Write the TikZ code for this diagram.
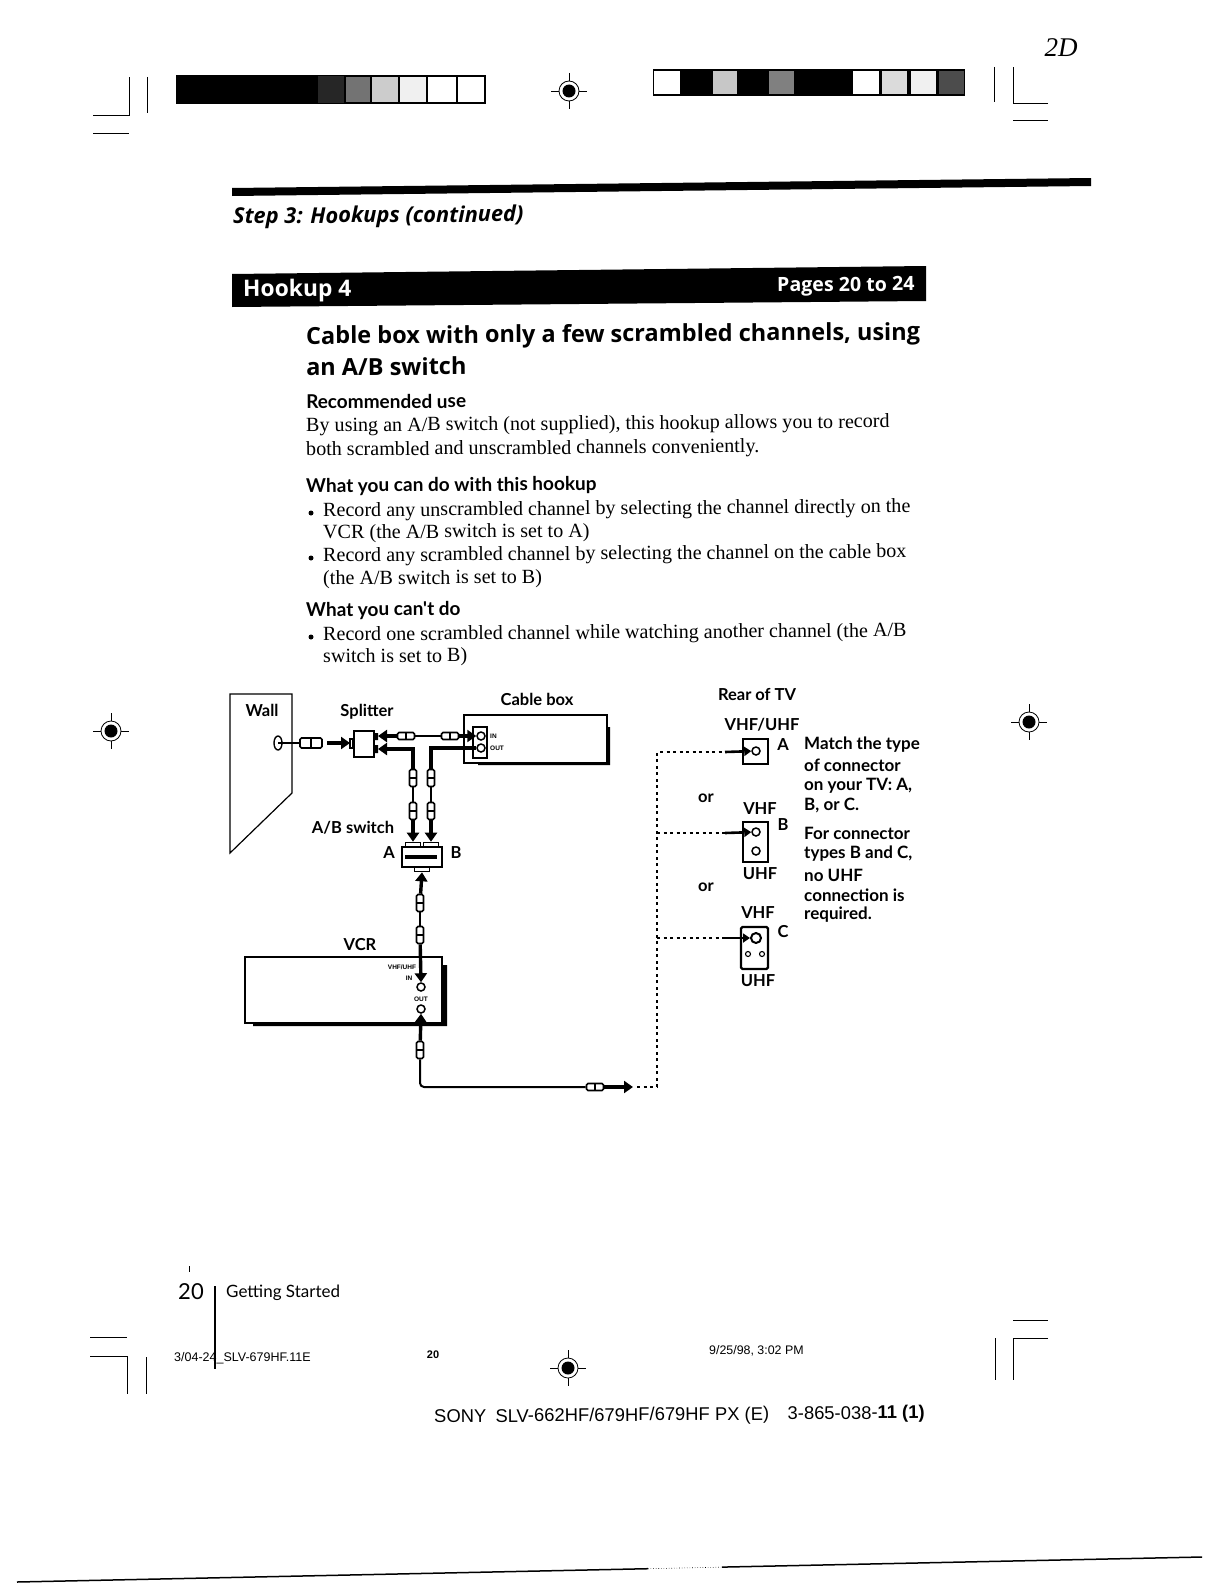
\documentclass[tikz,border=0pt]{standalone}
\usepackage{fontspec}
\setmainfont{Liberation Serif}
\newfontfamily\labelfont{Lato}
\newfontfamily\openfont{Open Sans}
\newfontfamily\helvfont{Liberation Sans}
\usetikzlibrary{arrows.meta}

\tikzset{
	bodytext/.style={anchor=west, inner sep=0pt, rotate=0.4, font=\fontsize{20.1}{20.1}\selectfont},
	headtext/.style={anchor=west, inner sep=0pt, rotate=0.4, font=\labelfont\fontsize{19}{19}\selectfont\bfseries},
	tag/.style={inner sep=0pt, font=\labelfont\fontsize{16.5}{16.5}\selectfont\bfseries},
	sidetext/.style={anchor=west, inner sep=0pt, font=\labelfont\fontsize{17}{17}\selectfont\bfseries},
	tinytag/.style={inner sep=0pt, font=\helvfont\fontsize{6.5}{6.5}\selectfont\bfseries},
	cable/.style={line width=1.6pt},
	thickcable/.style={line width=3.4pt},
	feed/.style={line width=3.4pt, -{Triangle[length=9pt,width=12pt]}},
	dashline/.style={line width=1.5pt, dash pattern=on 3pt off 3.5pt},
	plug/.style={draw, fill=white, line width=1.6pt, inner sep=0pt, minimum width=7pt, minimum height=17pt, rounded corners=1.5pt,
		path picture={\draw[line width=1.6pt] (path picture bounding box.west) -- (path picture bounding box.east);}},
	plugh/.style={draw, fill=white, line width=1.6pt, inner sep=0pt, minimum width=17pt, minimum height=7pt, rounded corners=1.5pt,
		path picture={\draw[line width=1.6pt] (path picture bounding box.north) -- (path picture bounding box.south);}},
	jack/.style={draw, circle, line width=1.5pt, inner sep=0pt, minimum size=8pt, fill=white,
		path picture={\fill (path picture bounding box.center) circle (1);}},
	crop/.style={line width=0.8pt},
	chip/.style={draw, line width=1.6pt, minimum width=25pt, minimum height=25pt, inner sep=0pt}
}

% registration mark
\newcommand{\regmark}[2]{
	\draw[line width=0.8pt] (#1-18,#2) -- (#1+18,#2) (#1,#2-18) -- (#1,#2+18);
	\draw[line width=0.8pt, fill=white] (#1,#2) circle (10);
	\fill (#1,#2) circle (6.5);
}

\begin{document}
\begin{tikzpicture}[x=1pt, y=-1pt, line cap=butt, line join=miter]
	\useasboundingbox (0,0) rectangle (1224,1584);
	\fill[white] (0,0) rectangle (1224,1584);

	% Crop marks, top
	\draw[crop] (93,115) -- (129,115) -- (129,77);
	\draw[crop] (93,133) -- (129,133);
	\draw[crop] (147,77) -- (147,113);
	\draw[crop] (994,67) -- (994,102);
	\draw[crop] (1048,103) -- (1013,103) -- (1013,67);
	\draw[crop] (1013,120) -- (1048,120);
	\regmark{569}{91}
	\regmark{111}{731}
	\regmark{1029}{722}

	% Colour bars
	\fill (176,75) rectangle (345,104);
	\fill[black!85] (318,76) rectangle (344,103);
	\foreach \xa/\xb/\shade in {345/371/55, 371/399/20, 399/427/6, 427/457/0, 457/485/0}
		\draw[line width=2.4pt, fill=black!\shade] (\xa,76) rectangle (\xb,103);
	\fill (653,69) rectangle (965,96);
	\foreach \xa/\xb/\shade in {654/680/0, 713/737/22, 769/794/50, 853/879/0, 882/907/14, 911/936/6}
		\fill[black!\shade] (\xa,71) rectangle (\xb,94);
	\fill[black!70] (939,71) rectangle (964,94);
	\node[font=\itshape\fontsize{27}{27}\selectfont, inner sep=0pt] (pagemark) at (1061,48) {2D};

	% Page head
	\fill (232,188) -- (1091,178) -- (1091,186) -- (232,196) -- cycle;
	\node[headtext, font=\openfont\fontsize{21.8}{21.8}\selectfont\bfseries\itshape] (step) at (233,218) {Step 3: Hookups (continued)};
	\fill (232,274) -- (926,266) -- (926,301) -- (232,307) -- cycle;
	\node[headtext, text=white, font=\openfont\fontsize{22.8}{22.8}\selectfont\bfseries] (hookup) at (243,291) {Hookup 4};
	\node[headtext, text=white, font=\openfont\fontsize{19.6}{19.6}\selectfont\bfseries] (pages) at (777,287) {Pages 20 to 24};
	\node[headtext, font=\openfont\fontsize{23.5}{23.5}\selectfont\bfseries] (title1) at (306,338) {Cable box with only a few scrambled channels, using};
	\node[headtext, font=\openfont\fontsize{23.5}{23.5}\selectfont\bfseries] (title2) at (306,367) {an A/B switch};

	% Body text
	\node[headtext] (use) at (306,402) {Recommended use};
	\node[bodytext] (use1) at (306,427) {By using an A/B switch (not supplied), this hookup allows you to record};
	\node[bodytext] (use2) at (306,451) {both scrambled and unscrambled channels conveniently.};
	\node[headtext] (can) at (306,487) {What you can do with this hookup};
	\node[bodytext] (can1) at (323,512) {Record any unscrambled channel by selecting the channel directly on the};
	\node[bodytext] (can2) at (323,534) {VCR (the A/B switch is set to A)};
	\node[bodytext] (can3) at (323,557) {Record any scrambled channel by selecting the channel on the cable box};
	\node[bodytext] (can4) at (323,580) {(the A/B switch is set to B)};
	\node[headtext] (cant) at (306,611) {What you can't do};
	\node[bodytext] (cant1) at (323,636) {Record one scrambled channel while watching another channel (the A/B};
	\node[bodytext] (cant2) at (323,658) {switch is set to B)};
	\fill (311,513) circle (2.5) (311,558) circle (2.5) (311,637) circle (2.5);

	% Wall
	\draw[line width=1.2pt] (292,694) -- (230,694) -- (230,853) -- (292,793) -- cycle;
	\node[tag] (wall) at (262,710) {Wall};
	\draw[line width=1.4pt, fill=white] (278,743) ellipse (4 and 7);
	\coordinate (walljack) at (278,743);

	% Splitter
	\node[tag] (splitterlabel) at (367,712) {Splitter};
	\node[draw, line width=1.4pt, minimum width=20pt, minimum height=26pt, inner sep=0pt] (splitter) at (364,744) {};
	\fill (375,733) rectangle (378,740) (375,745) rectangle (378,753);
	\draw[line width=1.1pt] (353,739) rectangle (350,748);
	\coordinate (splitin) at (350,743);
	\coordinate (splittop) at (378,736);
	\coordinate (splitlow) at (378,749);

	% Cable box
	\node[tag] (cablelabel) at (537,699) {Cable box};
	\node[draw, line width=1.1pt, minimum width=143pt, minimum height=48pt, inner sep=0pt] (cablebox) at (535.5,739) {};
	\fill (478,762) rectangle (610,765) (606,727) rectangle (610,765);
	\node[draw, line width=1.1pt, minimum width=14pt, minimum height=31pt, inner sep=0pt] (panel) at (480,742.5) {};
	\node[jack] (boxin) at (481,736) {};
	\node[jack] (boxout) at (481,748) {};
	\node[tinytag, anchor=west] (inlabel) at (490,736) {IN};
	\node[tinytag, anchor=west] (outlabel) at (490,748) {OUT};

	% A/B switch
	\node[tag] (switchlabel) at (353,828) {A/B switch};
	\node[tag] (aside) at (389,853) {A};
	\node[tag] (bside) at (456,853) {B};
	\node[draw, line width=1.5pt, minimum width=40pt, minimum height=20pt, inner sep=0pt] (switch) at (422,857) {};
	\fill (405,855) rectangle (437,858.5);
	\node[draw, line width=1.3pt, minimum width=15pt, minimum height=4pt, inner sep=0pt, anchor=south] (swa) at (413,847) {};
	\node[draw, line width=1.3pt, minimum width=15pt, minimum height=4pt, inner sep=0pt, anchor=south] (swb) at (431,847) {};
	\node[draw, line width=1.3pt, minimum width=15pt, minimum height=4pt, inner sep=0pt, anchor=north] (swc) at (422,867) {};

	% Wall to splitter
	\node[plugh, minimum width=22pt, minimum height=10pt] (p1) at (311,743) {};
	\draw[cable] (walljack) -- (p1);
	\draw[feed] (327,743) -- (splitin);

	% Splitter to cable box
	\node[plugh] (p2) at (406,736) {};
	\node[plugh] (p3) at (450,736) {};
	\draw[cable] (p2) -- (p3);
	\draw[feed] (p2) -- (splittop);
	\draw[feed] (p3) -- (boxin);

	% Splitter and cable box to switch
	\node[plug] (p4) at (413,778) {};
	\node[plug] (p5) at (413,811) {};
	\node[plug] (p6) at (431,778) {};
	\node[plug] (p7) at (431,811) {};
	\draw[feed] (p4.north) |- (splitlow);
	\draw[thickcable] (boxout) -| (p6.north);
	\draw[cable] (p4) -- (p5);
	\draw[cable] (p6) -- (p7);
	\draw[feed] (p5) -- (swa.north);
	\draw[feed] (p7) -- (swb.north);

	% VCR
	\node[tag] (vcrlabel) at (360,945) {VCR};
	\node[draw, line width=1.1pt, minimum width=197pt, minimum height=66pt, inner sep=0pt] (vcr) at (343.5,990) {};
	\fill (253,1023) rectangle (447,1026) (443,965) rectangle (447,1026);
	\node[tinytag] (vhflabel) at (402,967) {VHF/UHF};
	\node[tinytag] (vinlabel) at (409,978) {IN};
	\node[tinytag] (voutlabel) at (421,999) {OUT};
	\node[jack] (vcrin) at (421,987) {};
	\node[jack] (vcrout) at (421,1009) {};

	% Switch to VCR
	\node[plug] (p8) at (420,903) {};
	\node[plug] (p9) at (420,935) {};
	\draw[cable] (p8) -- (p9);
	\draw[feed] (p8) -- (swc.south);
	\draw[feed] (p9) -- (vcrin.north);

	% VCR to TV
	\node[plug] (p10) at (420,1050) {};
	\node[plugh] (p11) at (595,1087) {};
	\coordinate (dashcorner) at (657,1087);
	\draw[feed] (p10) -- (vcrout.south);
	\draw[cable, line width=2pt, rounded corners=4pt] (p10) |- (p11);
	\draw[feed] (p11) -- (633,1087);
	\draw[dashline] (637,1087) -- (dashcorner);

	% Rear of TV
	\node[tag] (rear) at (757,694) {Rear of TV};
	\node[tag] (vhfuhf) at (762,725) {VHF/UHF};
	\node[tag] (vhfb) at (760,809) {VHF};
	\node[tag] (uhfb) at (760,874) {UHF};
	\node[tag] (vhfc) at (758,913) {VHF};
	\node[tag] (uhfc) at (758,981) {UHF};
	\node[tag] (ora) at (706,798) {or};
	\node[tag] (orb) at (706,887) {or};
	\node[tag] (lettera) at (783,745) {A};
	\node[tag] (letterb) at (783,825) {B};
	\node[tag] (letterc) at (783,932) {C};
	\node[chip] (chipa) at (755.5,751.5) {};
	\node[chip, minimum height=40pt] (chipb) at (755.5,842) {};
	\node[chip, line width=2.2pt, rounded corners=1.5pt, minimum width=27pt, minimum height=42pt] (chipc) at (754.5,948) {};
	\node[jack] (ja) at (756,751) {};
	\node[jack] (jb) at (756,832) {};
	\node[jack] (jb2) at (756,851) {};
	\node[jack, minimum size=10pt, line width=2pt] (jc) at (756,938) {};
	\node[jack, minimum size=5pt, line width=1.1pt] (jc1) at (748,954) {};
	\node[jack, minimum size=5pt, line width=1.1pt] (jc2) at (762,954) {};
	\coordinate (dashtop) at (657,752);
	\coordinate (dashb) at (657,833);
	\coordinate (dashc) at (657,938);
	\draw[dashline] (dashcorner) -- (dashtop) -- (725,752);
	\draw[dashline] (dashb) -- (725,833);
	\draw[dashline] (dashc) -- (725,938);
	\draw[line width=2.6pt, -{Triangle[length=7pt,width=9pt]}] (725,752) -- (ja);
	\draw[line width=2.6pt, -{Triangle[length=7pt,width=9pt]}] (725,833) -- (jb);
	\draw[line width=2.6pt, -{Triangle[length=7pt,width=9pt]}] (725,938) -- (jc);

	% Side note
	\node[sidetext] (n1) at (804,745) {Match the type};
	\node[sidetext] (n2) at (804,765) {of connector};
	\node[sidetext] (n3) at (804,786) {on your TV: A,};
	\node[sidetext] (n4) at (804,805) {B, or C.};
	\node[sidetext] (n5) at (804,833) {For connector};
	\node[sidetext] (n6) at (804,854) {types B and C,};
	\node[sidetext] (n7) at (804,875) {no UHF};
	\node[sidetext] (n8) at (804,895) {connection is};
	\node[sidetext] (n9) at (804,915) {required.};

	% Page foot
	\draw[crop] (189,1266) -- (189,1272);
	\node[inner sep=0pt, font=\labelfont\fontsize{22}{22}\selectfont] (pageno) at (191,1292) {20};
	\draw[line width=1.4pt] (215,1286) -- (215,1369);
	\node[sidetext, font=\labelfont\fontsize{17}{17}\selectfont] (started) at (226,1293) {Getting Started};
	\node[tinytag, anchor=west, font=\helvfont\fontsize{12.5}{12.5}\selectfont] (slug) at (174,1358) {3/04-24\_SLV-679HF.11E};
	\node[tinytag, font=\helvfont\fontsize{11}{11}\selectfont\bfseries] (slugno) at (433,1355) {20};
	\node[tinytag, anchor=west, font=\helvfont\fontsize{12.4}{12.4}\selectfont] (stamp) at (709,1351) {9/25/98, 3:02 PM};
	\regmark{568}{1368}
	\draw[crop] (90,1337) -- (127,1337);
	\draw[crop] (90,1356) -- (127,1356) -- (127,1394);
	\draw[crop] (146,1357) -- (146,1394);
	\draw[crop] (995,1338) -- (995,1380);
	\draw[crop] (1048,1338) -- (1013,1338) -- (1013,1380);
	\draw[crop] (1013,1320) -- (1048,1320);
	\node[anchor=west, inner sep=0pt, rotate=0.5, font=\helvfont\fontsize{18.4}{18.4}\selectfont] (model) at (434,1418) {SONY\hspace{0.5em}SLV-662HF/679HF/679HF PX (E)\hspace{1em}3-865-038-\textbf{11 (1)}};

	% Scan edge
	\draw[line width=1.5pt] (17,1582) -- (648,1568.7);
	\draw[line width=1.5pt] (722,1567.1) -- (1202,1557);
	\draw[line width=0.6pt, dotted] (648,1568.7) -- (722,1567.1);
\end{tikzpicture}
\end{document}
